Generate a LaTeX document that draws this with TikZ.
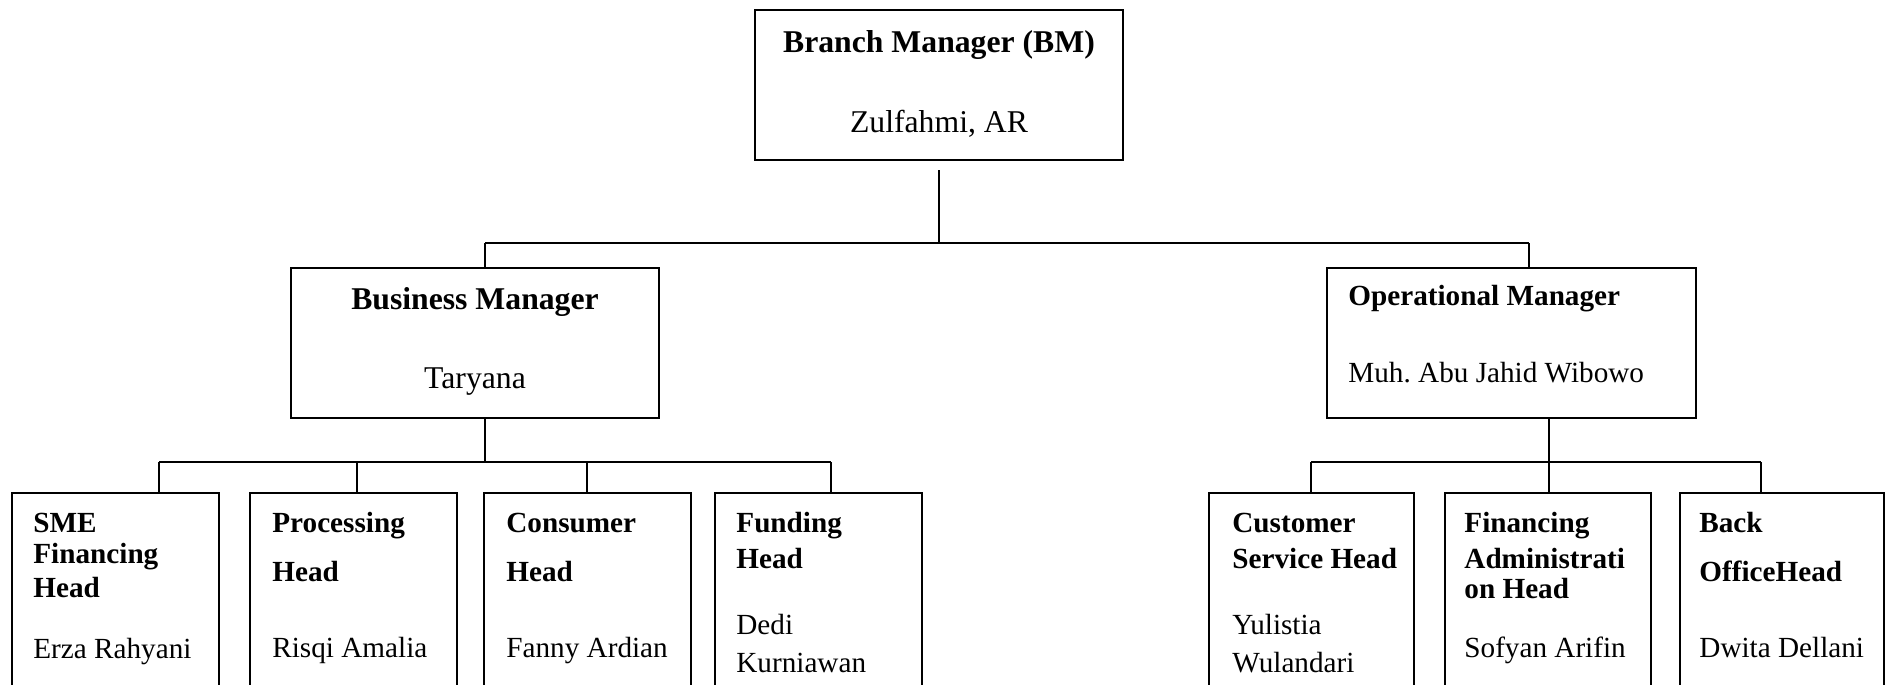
\documentclass[tikz,border=0pt]{standalone}
\usepackage{fontspec}
\setmainfont{Liberation Serif}
\usetikzlibrary{fit}
\frenchspacing
\tikzset{
  box/.style={draw, line width=1pt, inner sep=0pt, rectangle},
  conn/.style={draw, line width=1pt},
  txt/.style={anchor=base west, inner sep=0pt, font=\fontsize{14.6}{17}\selectfont},
  bigtxt/.style={anchor=base, inner sep=0pt, font=\fontsize{15.85}{19}\selectfont},
}
\newcommand\txtline[4]{\node[txt] (#1) at (#2,#3) {#4};}
\begin{document}
\begin{tikzpicture}[x=0.5pt,y=-0.5pt]
\clip (0,0) rectangle (1890,685);
% boxes
\node[box, fit={(755,10) (1123,160)}] (bm) {};
\node[box, fit={(291,268) (659,418)}] (bus) {};
\node[box, fit={(1327,268) (1696,418)}] (ops) {};
\node[box, fit={(12,493) (219,720)}] (sme) {};
\node[box, fit={(250,493) (457,720)}] (pro) {};
\node[box, fit={(484,493) (691,720)}] (con) {};
\node[box, fit={(715,493) (922,720)}] (fun) {};
\node[box, fit={(1209,493) (1414,720)}] (cus) {};
\node[box, fit={(1445,493) (1651,720)}] (fin) {};
\node[box, fit={(1680,493) (1884,720)}] (bac) {};
% texts
\node[bigtxt] (bmA) at (939,52) {\textbf{Branch Manager (BM)}};
\node[bigtxt] (bmB) at (939,132) {Zulfahmi, AR};
\node[bigtxt] (busA) at (475,309) {\textbf{Business Manager}};
\node[bigtxt] (busB) at (475,388) {Taryana};
\txtline{opsA}{1348}{305}{\textbf{Operational Manager}}
\txtline{opsB}{1348}{382}{Muh.\ Abu Jahid Wibowo}
\txtline{smeA}{33}{532}{\textbf{SME}}
\txtline{smeB}{33}{563}{\textbf{Financing}}
\txtline{smeC}{33}{597}{\textbf{Head}}
\txtline{smeD}{33}{658}{Erza Rahyani}
\txtline{proA}{272}{532}{\textbf{Processing}}
\txtline{proB}{272}{581}{\textbf{Head}}
\txtline{proC}{272}{657}{Risqi Amalia}
\txtline{conA}{506}{532}{\textbf{Consumer}}
\txtline{conB}{506}{581}{\textbf{Head}}
\txtline{conC}{506}{657}{Fanny Ardian}
\txtline{funA}{736}{532}{\textbf{Funding}}
\txtline{funB}{736}{568}{\textbf{Head}}
\txtline{funC}{736}{634}{Dedi}
\txtline{funD}{736}{672}{Kurniawan}
\txtline{cusA}{1232}{532}{\textbf{Customer}}
\txtline{cusB}{1232}{568}{\textbf{Service Head}}
\txtline{cusC}{1232}{634}{Yulistia}
\txtline{cusD}{1232}{672}{Wulandari}
\txtline{finA}{1464}{532}{\textbf{Financing}}
\txtline{finB}{1464}{568}{\textbf{Administrati}}
\txtline{finC}{1464}{598}{\textbf{on Head}}
\txtline{finD}{1464}{657}{Sofyan Arifin}
\txtline{bacA}{1699}{532}{\textbf{Back}}
\txtline{bacB}{1699}{581}{\textbf{OfficeHead}}
\txtline{bacC}{1699}{657}{Dwita Dellani}
% connector coordinates
\coordinate (j0) at (939,170);
\coordinate (j1) at (939,243);
\coordinate (b1) at (485,243);
\coordinate (b2) at (1529,243);
\coordinate (k1) at (485,462);
\coordinate (k2) at (1549,462);
\coordinate (s1) at (159,462);
\coordinate (s2) at (357,462);
\coordinate (s3) at (587,462);
\coordinate (s4) at (831,462);
\coordinate (r1) at (1311,462);
\coordinate (r2) at (1549,462);
\coordinate (r3) at (1761,462);
% connectors
\draw[conn] (j0) -- (j1);
\draw[conn] (b1) -- (b2);
\draw[conn] (b1) -- (b1 |- bus.north);
\draw[conn] (b2) -- (b2 |- ops.north);
\draw[conn] (k1 |- bus.south) -- (k1);
\draw[conn] (s1) -- (s4);
\draw[conn] (s1) -- (s1 |- sme.north);
\draw[conn] (s2) -- (s2 |- pro.north);
\draw[conn] (s3) -- (s3 |- con.north);
\draw[conn] (s4) -- (s4 |- fun.north);
\draw[conn] (k2 |- ops.south) -- (k2);
\draw[conn] (r1) -- (r3);
\draw[conn] (r1) -- (r1 |- cus.north);
\draw[conn] (r2) -- (r2 |- fin.north);
\draw[conn] (r3) -- (r3 |- bac.north);
\end{tikzpicture}
\end{document}
